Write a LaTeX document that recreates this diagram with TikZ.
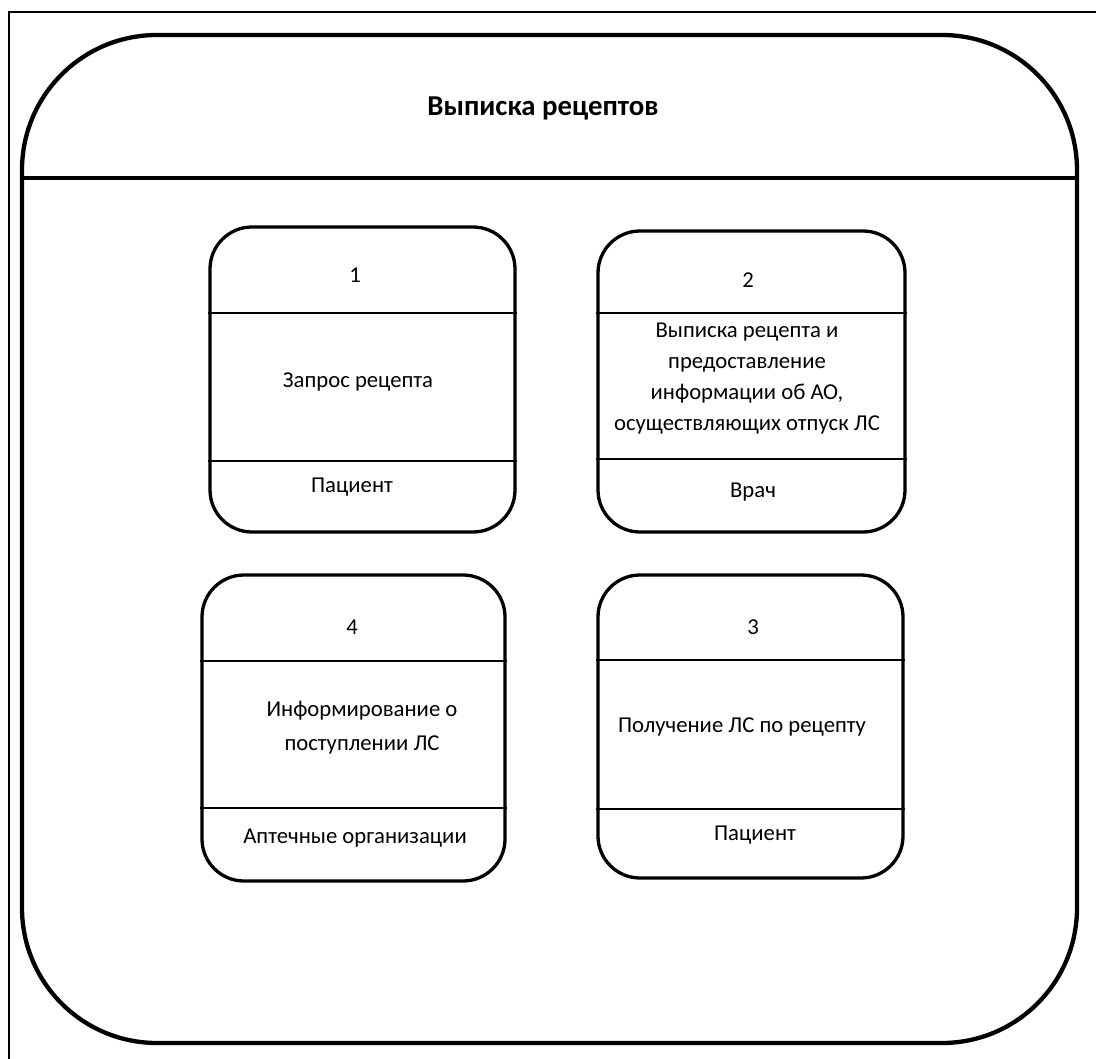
\documentclass[tikz,border=0pt]{standalone}
\usepackage{fontspec}
\setmainfont{Carlito}
\begin{document}
\begin{tikzpicture}[x=1pt,y=-1pt,
  outerbox/.style={draw, line width=4.3pt, rounded corners=135pt, inner sep=0pt},
  stagebox/.style={draw, line width=3.3pt, rounded corners=42pt, inner sep=0pt},
  divider/.style={line width=1.5pt},
  txt/.style={font=\fontsize{22.7}{31}\selectfont, align=center, inner sep=0pt},
  title/.style={font=\fontsize{28.8}{34}\selectfont\bfseries, inner sep=0pt}]
\useasboundingbox (0,0) rectangle (1096,1059);
% frame (cropped at right and bottom)
\coordinate (fbl) at (9,1059);
\coordinate (ftl) at (9,12);
\coordinate (ftr) at (1096,12);
\draw[line width=2.6pt] (fbl) -- (ftl) -- (ftr);
% outer container
\node[outerbox, minimum width=1055pt, minimum height=1008pt] (outer) at (549.5,539) {};
\draw[line width=4.5pt] (outer.west |- 0,178) -- (outer.east |- 0,178);
\node[title] (ttl) at (543,108) {Выписка рецептов};
% box 1
\node[stagebox, minimum width=305pt, minimum height=305pt] (b1) at (362.5,379.5) {};
\draw[divider] (b1.west |- 0,313) -- (b1.east |- 0,313);
\draw[divider] (b1.west |- 0,461) -- (b1.east |- 0,461);
\node[txt] (n1) at (355,275) {1};
\node[txt] (t1) at (358,382) {Запрос рецепта};
\node[txt] (r1) at (352,487) {Пациент};
% box 2
\node[stagebox, minimum width=307pt, minimum height=301pt] (b2) at (751.5,381.5) {};
\draw[divider] (b2.west |- 0,313) -- (b2.east |- 0,313);
\draw[divider] (b2.west |- 0,459) -- (b2.east |- 0,459);
\node[txt] (n2) at (748,280) {2};
\node[txt] (t2) at (747,378.5) {Выписка рецепта и\\предоставление\\информации об АО,\\осуществляющих отпуск ЛС};
\node[txt] (r2) at (753,492) {Врач};
% box 4
\node[stagebox, minimum width=303pt, minimum height=306pt] (b4) at (353.5,728) {};
\draw[divider] (b4.west |- 0,661) -- (b4.east |- 0,661);
\draw[divider] (b4.west |- 0,808) -- (b4.east |- 0,808);
\node[txt] (n4) at (352,627) {4};
\node[txt, font=\fontsize{22.7}{34}\selectfont] (t4) at (362,727.5) {Информирование о\\поступлении ЛС};
\node[txt] (r4) at (355,838) {Аптечные организации};
% box 3
\node[stagebox, minimum width=305pt, minimum height=303pt] (b3) at (750.5,726.5) {};
\draw[divider] (b3.west |- 0,660) -- (b3.east |- 0,660);
\draw[divider] (b3.west |- 0,809) -- (b3.east |- 0,809);
\node[txt] (n3) at (753,627) {3};
\node[txt] (t3) at (742,727) {Получение ЛС по рецепту};
\node[txt] (r3) at (755,835) {Пациент};
\end{tikzpicture}
\end{document}
